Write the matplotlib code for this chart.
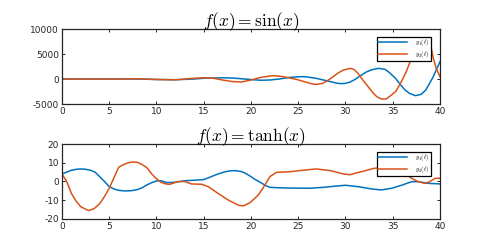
import numpy as np
import matplotlib
matplotlib.use("Agg")
import matplotlib.pyplot as plt

# f(x) = sin(x) panel
t_s1 = [0, 2, 4, 6, 8, 10, 12, 14, 15, 16, 17, 18, 19, 20, 21, 22, 23, 24, 25, 25.5, 26, 27, 28, 29,
        29.5, 30, 30.5, 31, 31.7, 32.2, 32.8, 33.5, 34.2, 34.7, 35.3, 35.8, 36.3, 36.8, 37.4, 38,
        38.5, 38.9, 39.3, 39.6, 40]
s_y1 = [0, 0, 0, 0, 0, -100, -150, 0, 150, 200, 250, 200, 50, -100, -250, -200, 0, 300, 450, 470,
        400, 100, -350, -800, -930, -870, -600, -100, 800, 1400, 1850, 2130, 1930, 1200, 130,
        -1100, -2200, -2900, -3330, -3070, -2200, -870, 500, 1800, 3470]
t_s2 = [0, 2, 4, 6, 8, 10, 12, 13, 14, 15, 16, 17, 18, 19, 20, 21, 22, 22.5, 23.4, 24.2, 24.8,
        25.9, 26.5, 26.9, 27.6, 28.2, 28.7, 29.3, 29.8, 30.5, 30.9, 31.3, 31.7, 32.3, 32.8, 33.3,
        33.8, 34.3, 34.8, 35.3, 35.7, 36, 36.4, 36.7, 37.2, 37.7, 38.2, 38.6, 38.9, 39.1, 39.3,
        39.6, 40]
s_y2 = [0, 0, 0, 0, 50, -100, -150, 0, 150, 250, 150, -200, -500, -600, -200, 300, 600, 670, 470,
        150, -70, -670, -1000, -1070, -870, -200, 470, 1300, 1800, 2130, 1900, 1200, 130, -1300,
        -2530, -3500, -4000, -4000, -3300, -2530, -1300, -200, 1300, 2800, 5130, 7000, 7900, 7600,
        7000, 6000, 4130, 2130, 470]

# f(x) = tanh(x) panel
t_h1 = [0, 0.5, 1, 1.5, 2, 2.5, 3, 3.5, 4, 4.5, 5, 5.5, 6, 6.5, 7, 7.5, 8, 8.5, 9, 9.5, 10, 10.5,
        11.1, 12, 13, 14.4, 15, 15.8, 16.5, 17.2, 17.8, 18.3, 19, 19.4, 20, 20.4, 21, 21.5, 22,
        22.7, 24.1, 26.2, 27.7, 29.1, 30, 31.4, 32.8, 33.8, 34.9, 36, 37, 37.7, 38.8, 40]
h_y1 = [4, 5, 6, 6.5, 6.7, 6.5, 6, 5, 2.5, 0, -2.7, -4, -4.7, -5, -5, -4.8, -4.3, -3.3, -1.8, -0.6,
        0.3, 0.4, -0.6, -0.4, 0.4, 0.8, 1, 2.6, 4, 5.1, 5.7, 5.8, 5.3, 4.4, 2.6, 1.2, -0.5, -2, -3.1,
        -3.3, -3.5, -3.6, -3.1, -2.4, -2, -2.8, -4, -4.5, -3.6, -1.9, -0.1, -0.1, -1, -1.3]
t_h2 = [0, 0.5, 1, 1.5, 2, 2.8, 3.4, 4, 4.5, 5, 5.5, 6, 6.5, 7, 7.5, 8, 8.5, 9, 9.5, 10, 10.5, 11,
        11.4, 12.3, 13, 13.7, 14.8, 15.5, 16.5, 17.6, 18.7, 19.2, 19.9, 20.4, 20.8, 21.3, 22, 22.7,
        24.1, 25.5, 26.9, 28.4, 29.8, 30.5, 31, 32, 33, 34, 35, 35.5, 36, 36.5, 37, 37.7, 38.4,
        38.9, 39.5, 40]
h_y2 = [4, 0, -6.4, -10.5, -13.5, -15.5, -14.5, -11.8, -8, -3.6, 2, 7.6, 9, 10, 10.4, 10.2, 9, 7.3,
        4, 1.5, -0.5, -1.3, -1.5, 0, 0, -1.3, -1.5, -2.8, -6.3, -9.9, -12.7, -13, -11.3, -9, -7,
        -3.3, 2.6, 4.9, 5.2, 6, 6.7, 5.8, 4, 3.6, 4.4, 5.6, 7, 7.5, 7.5, 7, 5.5, 3.5, 1.7, -0.1, -1,
        -0.1, 1.7, 1.7]

x_ticks = [0, 5, 10, 15, 20, 25, 30, 35, 40]
sin_yticks = [-5000, 0, 5000, 10000]
tanh_yticks = [-20, -10, 0, 10, 20]

blue = '#0072BD'
orange = '#D95319'
dark = '#262626'

plt.rcParams['mathtext.fontset'] = 'cm'
plt.rcParams['font.family'] = 'DejaVu Sans'
plt.rcParams['axes.unicode_minus'] = False

fig = plt.figure(figsize=(4.99, 2.43), dpi=100)
ax1 = fig.add_axes([0.1242, 0.572, 0.7575, 0.3086])
ax2 = fig.add_axes([0.1242, 0.0988, 0.7575, 0.3086])


def style(ax, yticks, title):
    ax.set_xlim(0, 40)
    ax.set_xticks(x_ticks)
    ax.set_yticks(yticks)
    ax.set_ylim(yticks[0], yticks[-1])
    ax.tick_params(direction='in', top=True, right=True, length=2.5, width=0.7,
                   labelsize=6.5, colors=dark, pad=2)
    for s in ax.spines.values():
        s.set_color(dark)
        s.set_linewidth(0.9)
    ax.set_title(title, fontsize=12.5, pad=2)
    leg = ax.legend(loc='upper right', bbox_to_anchor=(0.975, 0.9), fontsize=4.5,
                    fancybox=False, framealpha=1, edgecolor='black',
                    handlelength=4.6, borderpad=0.15, labelspacing=0.05,
                    handletextpad=1.4, borderaxespad=0)
    leg.get_frame().set_linewidth(0.9)


ax1.plot(t_s1, s_y1, color=blue, lw=1.1, label=r'$y_1(t)$')
ax1.plot(t_s2, s_y2, color=orange, lw=1.1, label=r'$y_2(t)$')
style(ax1, sin_yticks, r'$f(x) = \sin(x)$')

ax2.plot(t_h1, h_y1, color=blue, lw=1.1, label=r'$y_1(t)$')
ax2.plot(t_h2, h_y2, color=orange, lw=1.1, label=r'$y_2(t)$')
style(ax2, tanh_yticks, r'$f(x) = \tanh(x)$')

fig.savefig('out.png', dpi=100)
